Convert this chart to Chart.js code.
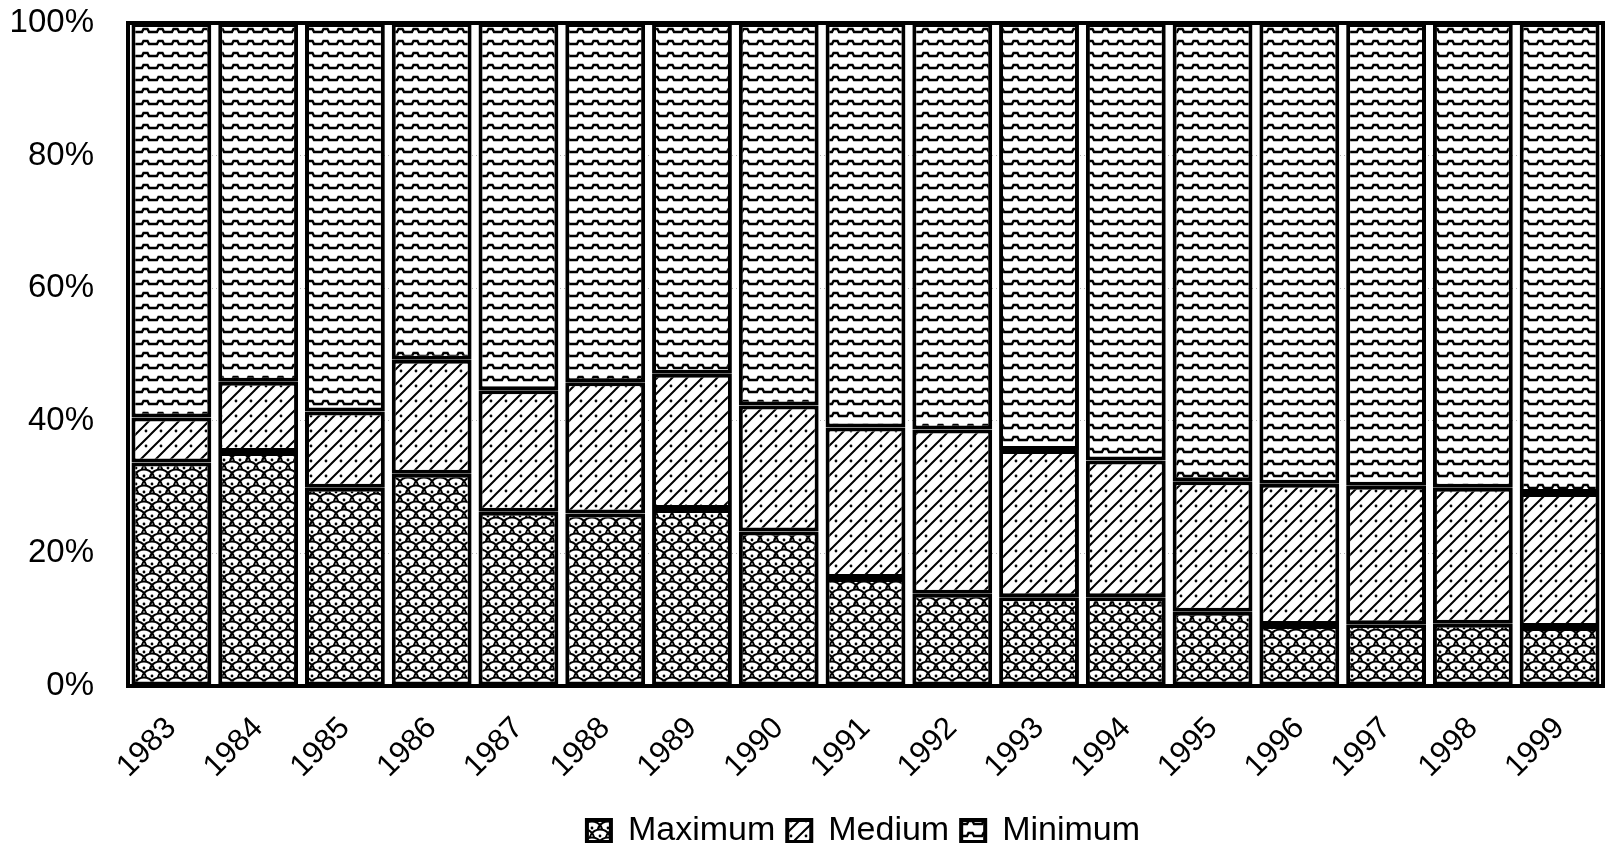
<!DOCTYPE html>
<html>
<head>
<meta charset="utf-8">
<title>Maximum / Medium / Minimum, 1983-1999</title>
<script src="https://cdn.jsdelivr.net/npm/chart.js@4.4.1/dist/chart.umd.min.js"></script>
<style>
  html, body { margin: 0; padding: 0; background: #fff; }
  canvas { display: block; }
</style>
</head>
<body>
<canvas id="shareChart" width="1606" height="843"></canvas>
<script>
// share of each class per year, in percent
const years = ["1983", "1984", "1985", "1986", "1987", "1988", "1989", "1990", "1991",
               "1992", "1993", "1994", "1995", "1996", "1997", "1998", "1999"];
const maximumShare = [33.7, 35.3, 29.9, 32.0, 26.3, 26.0, 26.7, 23.3, 16.3, 13.9, 13.4, 13.4, 11.2, 9.2, 9.3, 9.4, 8.9];
const mediumShare  = [6.8, 10.6, 11.5, 17.2, 18.3, 19.8, 20.4, 19.0, 22.7, 24.8, 22.2, 20.6, 19.7, 21.3, 20.9, 20.5, 20.2];
const minimumShare = [59.5, 54.1, 58.6, 50.8, 55.4, 54.2, 52.9, 57.7, 61.0, 61.3, 64.4, 66.0, 69.1, 69.5, 69.8, 70.1, 70.9];
const yTicks = [0, 20, 40, 60, 80, 100];

const FONT = "'Liberation Sans', Arial, sans-serif";

/* ==============================
   FILL PATTERNS (scan look)
============================== */
function makeTile(w, h, draw) {
  const c = document.createElement("canvas");
  c.width = w;
  c.height = h;
  const g = c.getContext("2d");
  g.fillStyle = "#fff";
  g.fillRect(0, 0, w, h);
  g.strokeStyle = "#000";
  g.fillStyle = "#000";
  draw(g, w, h);
  return c;
}

// fish-scale arches with a dot under each arch
function scaleTile() {
  return makeTile(16, 16, g => {
    g.lineWidth = 2;
    const centers = [];
    for (let dx = -16; dx <= 16; dx += 16) {
      for (let dy = -16; dy <= 32; dy += 16) {
        centers.push([dx, dy], [dx + 8, dy + 8]);
      }
    }
    centers.forEach(([cx, cy]) => {
      g.beginPath();
      g.arc(cx, cy, 10.5, Math.PI * 1.08, Math.PI * 1.92);
      g.stroke();
      g.beginPath();
      g.arc(cx, cy - 4, 1.4, 0, Math.PI * 2);
      g.fill();
    });
  });
}

// "/" hatching with dots between the lines
function diagonalTile() {
  return makeTile(15, 15, g => {
    g.lineWidth = 2;
    g.beginPath();
    g.moveTo(-2, 17); g.lineTo(17, -2);
    g.moveTo(-2, 2); g.lineTo(2, -2);
    g.moveTo(13, 17); g.lineTo(17, 13);
    g.stroke();
    g.beginPath();
    g.arc(11, 11, 1.4, 0, Math.PI * 2);
    g.fill();
  });
}

// horizontal lines with small raised notches
function waveTile() {
  return makeTile(15, 12, g => {
    g.lineWidth = 2.4;
    g.beginPath();
    g.moveTo(0, 8);
    g.lineTo(7, 8);
    g.lineTo(8.5, 5);
    g.lineTo(12.5, 5);
    g.lineTo(14, 8);
    g.lineTo(15, 8);
    g.stroke();
  });
}

/* ==============================
   PLOT FRAME + LEGEND NUDGE
============================== */
const frame = {
  id: "frame",
  afterDatasetsDraw(chart) {
    const { ctx, chartArea: a } = chart;
    ctx.save();
    ctx.strokeStyle = "#000";
    ctx.lineWidth = 4;
    ctx.strokeRect(a.left, a.top, a.right - a.left, a.bottom - a.top);
    ctx.restore();
  }
};

// the original legend sits a bit right of the page centre
const legendShift = {
  id: "legendShift",
  afterLayout(chart) {
    if (!chart.legend) return;
    chart.legend.left += 62;
    chart.legend.right += 62;
  }
};

/* ==============================
   CHART
============================== */
const canvas = document.getElementById("shareChart");
const ctx = canvas.getContext("2d");
const maxFill = ctx.createPattern(scaleTile(), "repeat");
const medFill = ctx.createPattern(diagonalTile(), "repeat");
const minFill = ctx.createPattern(waveTile(), "repeat");

function series(label, data, fill) {
  return {
    label,
    data,
    backgroundColor: fill,
    borderColor: "#000",
    borderWidth: 4,
    borderSkipped: false,
    barPercentage: 0.92,
    categoryPercentage: 1
  };
}

new Chart(ctx, {
  type: "bar",
  data: {
    labels: years,
    datasets: [
      series("Maximum", maximumShare, maxFill),
      series("Medium", mediumShare, medFill),
      series("Minimum", minimumShare, minFill)
    ]
  },
  options: {
    responsive: false,
    animation: false,
    layout: { padding: { top: 23, right: 3, bottom: -15, left: 0 } },
    plugins: {
      legend: {
        position: "bottom",
        labels: {
          color: "#000",
          font: { family: FONT, size: 34 },
          boxWidth: 24,
          boxHeight: 22,
          padding: 12
        }
      },
      tooltip: { enabled: false }
    },
    scales: {
      x: {
        stacked: true,
        grid: { display: false },
        border: { display: false },
        ticks: {
          color: "#000",
          font: { family: FONT, size: 31 },
          minRotation: 45,
          maxRotation: 45,
          padding: 16
        },
        afterFit: s => { s.height = 116; }
      },
      y: {
        stacked: true,
        min: 0,
        max: 100,
        afterBuildTicks: s => { s.ticks = yTicks.map(v => ({ value: v })); },
        // long invisible tick marks push the labels away from the frame
        grid: {
          color: "#b0b0b0",
          lineWidth: 1,
          drawTicks: true,
          tickLength: 32,
          tickColor: "rgba(0,0,0,0)"
        },
        border: { display: false, dash: [1, 3] },
        ticks: {
          color: "#000",
          font: { family: FONT, size: 33 },
          padding: 2,
          callback: v => v + "%"
        },
        afterFit: s => { s.width = 128; }
      }
    }
  },
  plugins: [frame, legendShift]
});
</script>
</body>
</html>
